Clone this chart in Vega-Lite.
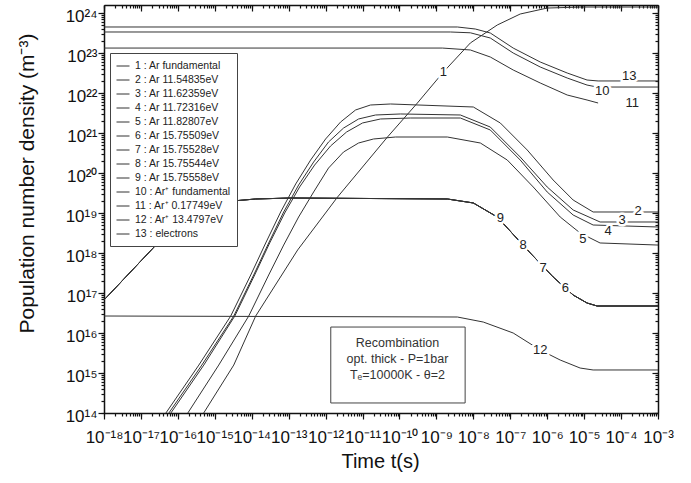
{
  "$schema": "https://vega.github.io/schema/vega-lite/v6.json",
  "width": 554,
  "height": 408,
  "autosize": {"type": "none"},
  "padding": {"left": 104, "top": 5, "right": 33, "bottom": 70},
  "background": "white",
  "config": {
    "view": {"stroke": null},
    "font": "Liberation Sans",
    "axis": {"grid": false, "domainColor": "#111", "tickColor": "#111", "labelColor": "#111", "titleColor": "#111", "labelFont": "Liberation Sans", "titleFont": "Liberation Sans", "titleFontWeight": "normal", "tickWidth": 1.2, "domainWidth": 1.5}
  },
  "datasets": {
    "curves": [
      {"s": "1 : Ar fundamental", "t": 5.0e-16, "n": 1e14},
      {"s": "1 : Ar fundamental", "t": 3.26e-15, "n": 1.58e15},
      {"s": "1 : Ar fundamental", "t": 1.28e-14, "n": 2.66e16},
      {"s": "1 : Ar fundamental", "t": 1.75e-13, "n": 1.19e18},
      {"s": "1 : Ar fundamental", "t": 2.11e-12, "n": 2.51e19},
      {"s": "1 : Ar fundamental", "t": 4.74e-11, "n": 7.94e20},
      {"s": "1 : Ar fundamental", "t": 3.06e-10, "n": 5.62e21},
      {"s": "1 : Ar fundamental", "t": 1.55e-9, "n": 3.35e22},
      {"s": "1 : Ar fundamental", "t": 8.3e-9, "n": 1.78e23},
      {"s": "1 : Ar fundamental", "t": 4.45e-8, "n": 5.01e23},
      {"s": "1 : Ar fundamental", "t": 1.86e-7, "n": 9.44e23},
      {"s": "1 : Ar fundamental", "t": 1.0e-6, "n": 1.33e24},
      {"s": "1 : Ar fundamental", "t": 7.8e-6, "n": 1.41e24},
      {"s": "1 : Ar fundamental", "t": 1e-3, "n": 1.41e24},

      {"s": "2 : Ar 11.54835eV", "t": 4.74e-17, "n": 1e14},
      {"s": "2 : Ar 11.54835eV", "t": 3.7e-16, "n": 1.58e15},
      {"s": "2 : Ar 11.54835eV", "t": 2.7e-15, "n": 2.66e16},
      {"s": "2 : Ar 11.54835eV", "t": 9.4e-15, "n": 2.82e17},
      {"s": "2 : Ar 11.54835eV", "t": 2.39e-14, "n": 1.78e18},
      {"s": "2 : Ar 11.54835eV", "t": 6.08e-14, "n": 1.06e19},
      {"s": "2 : Ar 11.54835eV", "t": 1.55e-13, "n": 5.31e19},
      {"s": "2 : Ar 11.54835eV", "t": 3.93e-13, "n": 2.11e20},
      {"s": "2 : Ar 11.54835eV", "t": 1.0e-12, "n": 7.08e20},
      {"s": "2 : Ar 11.54835eV", "t": 2.54e-12, "n": 1.88e21},
      {"s": "2 : Ar 11.54835eV", "t": 6.47e-12, "n": 3.76e21},
      {"s": "2 : Ar 11.54835eV", "t": 1.64e-11, "n": 5.01e21},
      {"s": "2 : Ar 11.54835eV", "t": 5.71e-11, "n": 5.31e21},
      {"s": "2 : Ar 11.54835eV", "t": 1e-8, "n": 4.47e21},
      {"s": "2 : Ar 11.54835eV", "t": 5.37e-8, "n": 1.78e21},
      {"s": "2 : Ar 11.54835eV", "t": 2.88e-7, "n": 3.76e20},
      {"s": "2 : Ar 11.54835eV", "t": 1.45e-6, "n": 6.68e19},
      {"s": "2 : Ar 11.54835eV", "t": 5.04e-6, "n": 2.11e19},
      {"s": "2 : Ar 11.54835eV", "t": 1.75e-5, "n": 1.06e19},
      {"s": "2 : Ar 11.54835eV", "t": 1e-3, "n": 1.06e19},

      {"s": "3 : Ar 11.62359eV", "t": 5.71e-17, "n": 1e14},
      {"s": "3 : Ar 11.62359eV", "t": 4.46e-16, "n": 1.58e15},
      {"s": "3 : Ar 11.62359eV", "t": 3.26e-15, "n": 2.66e16},
      {"s": "3 : Ar 11.62359eV", "t": 1.13e-14, "n": 2.82e17},
      {"s": "3 : Ar 11.62359eV", "t": 2.88e-14, "n": 1.78e18},
      {"s": "3 : Ar 11.62359eV", "t": 7.33e-14, "n": 1.06e19},
      {"s": "3 : Ar 11.62359eV", "t": 1.86e-13, "n": 5.01e19},
      {"s": "3 : Ar 11.62359eV", "t": 4.74e-13, "n": 1.88e20},
      {"s": "3 : Ar 11.62359eV", "t": 1.2e-12, "n": 5.96e20},
      {"s": "3 : Ar 11.62359eV", "t": 3.06e-12, "n": 1.33e21},
      {"s": "3 : Ar 11.62359eV", "t": 7.8e-12, "n": 2.24e21},
      {"s": "3 : Ar 11.62359eV", "t": 2.25e-11, "n": 2.82e21},
      {"s": "3 : Ar 11.62359eV", "t": 1.06e-10, "n": 2.99e21},
      {"s": "3 : Ar 11.62359eV", "t": 4.46e-9, "n": 2.82e21},
      {"s": "3 : Ar 11.62359eV", "t": 2.88e-8, "n": 1.41e21},
      {"s": "3 : Ar 11.62359eV", "t": 1.86e-7, "n": 2.51e20},
      {"s": "3 : Ar 11.62359eV", "t": 1e-6, "n": 4.47e19},
      {"s": "3 : Ar 11.62359eV", "t": 5.04e-6, "n": 1.19e19},
      {"s": "3 : Ar 11.62359eV", "t": 2.7e-5, "n": 5.96e18},
      {"s": "3 : Ar 11.62359eV", "t": 1e-3, "n": 5.96e18},

      {"s": "4 : Ar 11.72316eV", "t": 6.47e-17, "n": 1e14},
      {"s": "4 : Ar 11.72316eV", "t": 5.04e-16, "n": 1.58e15},
      {"s": "4 : Ar 11.72316eV", "t": 3.48e-15, "n": 2.66e16},
      {"s": "4 : Ar 11.72316eV", "t": 1.2e-14, "n": 2.82e17},
      {"s": "4 : Ar 11.72316eV", "t": 3.06e-14, "n": 1.78e18},
      {"s": "4 : Ar 11.72316eV", "t": 7.8e-14, "n": 1.0e19},
      {"s": "4 : Ar 11.72316eV", "t": 1.98e-13, "n": 4.47e19},
      {"s": "4 : Ar 11.72316eV", "t": 5.04e-13, "n": 1.58e20},
      {"s": "4 : Ar 11.72316eV", "t": 1.36e-12, "n": 4.73e20},
      {"s": "4 : Ar 11.72316eV", "t": 3.7e-12, "n": 1.06e21},
      {"s": "4 : Ar 11.72316eV", "t": 1.0e-11, "n": 1.78e21},
      {"s": "4 : Ar 11.72316eV", "t": 3.06e-11, "n": 2.24e21},
      {"s": "4 : Ar 11.72316eV", "t": 1.98e-10, "n": 2.37e21},
      {"s": "4 : Ar 11.72316eV", "t": 4.46e-9, "n": 2.37e21},
      {"s": "4 : Ar 11.72316eV", "t": 2.88e-8, "n": 1.19e21},
      {"s": "4 : Ar 11.72316eV", "t": 1.86e-7, "n": 2.11e20},
      {"s": "4 : Ar 11.72316eV", "t": 1e-6, "n": 3.35e19},
      {"s": "4 : Ar 11.72316eV", "t": 5.04e-6, "n": 8.91e18},
      {"s": "4 : Ar 11.72316eV", "t": 1.75e-5, "n": 5.01e18},
      {"s": "4 : Ar 11.72316eV", "t": 1e-3, "n": 4.47e18},

      {"s": "5 : Ar 11.82807eV", "t": 1.86e-16, "n": 1e14},
      {"s": "5 : Ar 11.82807eV", "t": 1.28e-15, "n": 1.58e15},
      {"s": "5 : Ar 11.82807eV", "t": 8.3e-15, "n": 2.66e16},
      {"s": "5 : Ar 11.82807eV", "t": 2.88e-14, "n": 2.82e17},
      {"s": "5 : Ar 11.82807eV", "t": 7.33e-14, "n": 1.58e18},
      {"s": "5 : Ar 11.82807eV", "t": 1.86e-13, "n": 7.94e18},
      {"s": "5 : Ar 11.82807eV", "t": 4.74e-13, "n": 3.35e19},
      {"s": "5 : Ar 11.82807eV", "t": 1.2e-12, "n": 1.33e20},
      {"s": "5 : Ar 11.82807eV", "t": 3.06e-12, "n": 3.35e20},
      {"s": "5 : Ar 11.82807eV", "t": 7.8e-12, "n": 5.62e20},
      {"s": "5 : Ar 11.82807eV", "t": 1.98e-11, "n": 7.08e20},
      {"s": "5 : Ar 11.82807eV", "t": 7.8e-11, "n": 7.94e20},
      {"s": "5 : Ar 11.82807eV", "t": 1.98e-9, "n": 7.94e20},
      {"s": "5 : Ar 11.82807eV", "t": 1.55e-8, "n": 5.62e20},
      {"s": "5 : Ar 11.82807eV", "t": 8.3e-8, "n": 2.11e20},
      {"s": "5 : Ar 11.82807eV", "t": 4.19e-7, "n": 4.47e19},
      {"s": "5 : Ar 11.82807eV", "t": 2.25e-6, "n": 7.94e18},
      {"s": "5 : Ar 11.82807eV", "t": 7.8e-6, "n": 3.16e18},
      {"s": "5 : Ar 11.82807eV", "t": 2.7e-5, "n": 1.78e18},
      {"s": "5 : Ar 11.82807eV", "t": 1e-3, "n": 1.58e18},

      {"s": "6 : Ar 15.75509eV", "t": 1e-18, "n": 6.68e16},
      {"s": "6 : Ar 15.75509eV", "t": 2.88e-17, "n": 1.78e18},
      {"s": "6 : Ar 15.75509eV", "t": 2.25e-16, "n": 1.06e19},
      {"s": "6 : Ar 15.75509eV", "t": 1.45e-15, "n": 1.88e19},
      {"s": "6 : Ar 15.75509eV", "t": 1.28e-14, "n": 2.24e19},
      {"s": "6 : Ar 15.75509eV", "t": 1.13e-13, "n": 2.37e19},
      {"s": "6 : Ar 15.75509eV", "t": 1.98e-9, "n": 2.24e19},
      {"s": "6 : Ar 15.75509eV", "t": 1e-8, "n": 1.78e19},
      {"s": "6 : Ar 15.75509eV", "t": 4.45e-8, "n": 7.94e18},
      {"s": "6 : Ar 15.75509eV", "t": 3.48e-7, "n": 1e18},
      {"s": "6 : Ar 15.75509eV", "t": 1.45e-6, "n": 2.51e17},
      {"s": "6 : Ar 15.75509eV", "t": 5.04e-6, "n": 8.91e16},
      {"s": "6 : Ar 15.75509eV", "t": 1.2e-5, "n": 5.62e16},
      {"s": "6 : Ar 15.75509eV", "t": 2.25e-5, "n": 4.73e16},
      {"s": "6 : Ar 15.75509eV", "t": 1e-3, "n": 4.73e16},

      {"s": "7 : Ar 15.75528eV", "t": 1e-18, "n": 6.68e16},
      {"s": "7 : Ar 15.75528eV", "t": 2.88e-17, "n": 1.78e18},
      {"s": "7 : Ar 15.75528eV", "t": 2.25e-16, "n": 1.06e19},
      {"s": "7 : Ar 15.75528eV", "t": 1.45e-15, "n": 1.88e19},
      {"s": "7 : Ar 15.75528eV", "t": 1.28e-14, "n": 2.24e19},
      {"s": "7 : Ar 15.75528eV", "t": 1.13e-13, "n": 2.37e19},
      {"s": "7 : Ar 15.75528eV", "t": 1.98e-9, "n": 2.24e19},
      {"s": "7 : Ar 15.75528eV", "t": 1e-8, "n": 1.78e19},
      {"s": "7 : Ar 15.75528eV", "t": 4.45e-8, "n": 7.94e18},
      {"s": "7 : Ar 15.75528eV", "t": 3.48e-7, "n": 1e18},
      {"s": "7 : Ar 15.75528eV", "t": 1.45e-6, "n": 2.51e17},
      {"s": "7 : Ar 15.75528eV", "t": 5.04e-6, "n": 8.91e16},
      {"s": "7 : Ar 15.75528eV", "t": 1.2e-5, "n": 5.62e16},
      {"s": "7 : Ar 15.75528eV", "t": 2.25e-5, "n": 4.73e16},
      {"s": "7 : Ar 15.75528eV", "t": 1e-3, "n": 4.73e16},

      {"s": "8 : Ar 15.75544eV", "t": 1e-18, "n": 6.68e16},
      {"s": "8 : Ar 15.75544eV", "t": 2.88e-17, "n": 1.78e18},
      {"s": "8 : Ar 15.75544eV", "t": 2.25e-16, "n": 1.06e19},
      {"s": "8 : Ar 15.75544eV", "t": 1.45e-15, "n": 1.88e19},
      {"s": "8 : Ar 15.75544eV", "t": 1.28e-14, "n": 2.24e19},
      {"s": "8 : Ar 15.75544eV", "t": 1.13e-13, "n": 2.37e19},
      {"s": "8 : Ar 15.75544eV", "t": 1.98e-9, "n": 2.24e19},
      {"s": "8 : Ar 15.75544eV", "t": 1e-8, "n": 1.78e19},
      {"s": "8 : Ar 15.75544eV", "t": 4.45e-8, "n": 7.94e18},
      {"s": "8 : Ar 15.75544eV", "t": 3.48e-7, "n": 1e18},
      {"s": "8 : Ar 15.75544eV", "t": 1.45e-6, "n": 2.51e17},
      {"s": "8 : Ar 15.75544eV", "t": 5.04e-6, "n": 8.91e16},
      {"s": "8 : Ar 15.75544eV", "t": 1.2e-5, "n": 5.62e16},
      {"s": "8 : Ar 15.75544eV", "t": 2.25e-5, "n": 4.73e16},
      {"s": "8 : Ar 15.75544eV", "t": 1e-3, "n": 4.73e16},

      {"s": "9 : Ar 15.75558eV", "t": 1e-18, "n": 6.68e16},
      {"s": "9 : Ar 15.75558eV", "t": 2.88e-17, "n": 1.78e18},
      {"s": "9 : Ar 15.75558eV", "t": 2.25e-16, "n": 1.06e19},
      {"s": "9 : Ar 15.75558eV", "t": 1.45e-15, "n": 1.88e19},
      {"s": "9 : Ar 15.75558eV", "t": 1.28e-14, "n": 2.24e19},
      {"s": "9 : Ar 15.75558eV", "t": 1.13e-13, "n": 2.37e19},
      {"s": "9 : Ar 15.75558eV", "t": 1.98e-9, "n": 2.24e19},
      {"s": "9 : Ar 15.75558eV", "t": 1e-8, "n": 1.78e19},
      {"s": "9 : Ar 15.75558eV", "t": 4.45e-8, "n": 7.94e18},
      {"s": "9 : Ar 15.75558eV", "t": 3.48e-7, "n": 1e18},
      {"s": "9 : Ar 15.75558eV", "t": 1.45e-6, "n": 2.51e17},
      {"s": "9 : Ar 15.75558eV", "t": 5.04e-6, "n": 8.91e16},
      {"s": "9 : Ar 15.75558eV", "t": 1.2e-5, "n": 5.62e16},
      {"s": "9 : Ar 15.75558eV", "t": 2.25e-5, "n": 4.73e16},
      {"s": "9 : Ar 15.75558eV", "t": 1e-3, "n": 4.73e16},

      {"s": "10 : Ar⁺ fundamental", "t": 1e-18, "n": 3.35e23},
      {"s": "10 : Ar⁺ fundamental", "t": 2.39e-9, "n": 3.35e23},
      {"s": "10 : Ar⁺ fundamental", "t": 8.3e-9, "n": 3.2e23},
      {"s": "10 : Ar⁺ fundamental", "t": 2.88e-8, "n": 2.37e23},
      {"s": "10 : Ar⁺ fundamental", "t": 1.2e-7, "n": 1.0e23},
      {"s": "10 : Ar⁺ fundamental", "t": 6.47e-7, "n": 4.47e22},
      {"s": "10 : Ar⁺ fundamental", "t": 3.48e-6, "n": 2.37e22},
      {"s": "10 : Ar⁺ fundamental", "t": 1.2e-5, "n": 1.58e22},
      {"s": "10 : Ar⁺ fundamental", "t": 2.25e-5, "n": 1.41e22},
      {"s": "10 : Ar⁺ fundamental", "t": 1e-3, "n": 1.41e22},

      {"s": "11 : Ar⁺ 0.17749eV", "t": 1e-18, "n": 1.33e23},
      {"s": "11 : Ar⁺ 0.17749eV", "t": 1.45e-9, "n": 1.33e23},
      {"s": "11 : Ar⁺ 0.17749eV", "t": 8.3e-9, "n": 1.19e23},
      {"s": "11 : Ar⁺ 0.17749eV", "t": 2.88e-8, "n": 7.94e22},
      {"s": "11 : Ar⁺ 0.17749eV", "t": 1.2e-7, "n": 3.76e22},
      {"s": "11 : Ar⁺ 0.17749eV", "t": 6.47e-7, "n": 1.78e22},
      {"s": "11 : Ar⁺ 0.17749eV", "t": 3.48e-6, "n": 8.91e21},
      {"s": "11 : Ar⁺ 0.17749eV", "t": 1.2e-5, "n": 6.68e21},
      {"s": "11 : Ar⁺ 0.17749eV", "t": 2.39e-5, "n": 5.62e21},

      {"s": "12 : Ar⁺ 13.4797eV", "t": 1e-18, "n": 2.66e16},
      {"s": "12 : Ar⁺ 13.4797eV", "t": 3.7e-9, "n": 2.51e16},
      {"s": "12 : Ar⁺ 13.4797eV", "t": 1.86e-8, "n": 1.88e16},
      {"s": "12 : Ar⁺ 13.4797eV", "t": 1.2e-7, "n": 1.0e16},
      {"s": "12 : Ar⁺ 13.4797eV", "t": 6.47e-7, "n": 3.76e15},
      {"s": "12 : Ar⁺ 13.4797eV", "t": 2.25e-6, "n": 2.11e15},
      {"s": "12 : Ar⁺ 13.4797eV", "t": 7.8e-6, "n": 1.33e15},
      {"s": "12 : Ar⁺ 13.4797eV", "t": 1.75e-5, "n": 1.19e15},
      {"s": "12 : Ar⁺ 13.4797eV", "t": 1e-3, "n": 1.19e15},

      {"s": "13 : electrons", "t": 1e-18, "n": 4.47e23},
      {"s": "13 : electrons", "t": 3.7e-9, "n": 4.47e23},
      {"s": "13 : electrons", "t": 1.13e-8, "n": 3.98e23},
      {"s": "13 : electrons", "t": 2.88e-8, "n": 3.16e23},
      {"s": "13 : electrons", "t": 1.2e-7, "n": 1.33e23},
      {"s": "13 : electrons", "t": 6.47e-7, "n": 5.96e22},
      {"s": "13 : electrons", "t": 3.48e-6, "n": 3.16e22},
      {"s": "13 : electrons", "t": 1.2e-5, "n": 2.11e22},
      {"s": "13 : electrons", "t": 2.39e-5, "n": 2.0e22},
      {"s": "13 : electrons", "t": 1e-3, "n": 2.0e22}
    ],
    "labels": [
      {"lab": "1", "t": 1.55e-9, "n": 3.39e22},
      {"lab": "2", "t": 2.88e-4, "n": 1.12e19},
      {"lab": "3", "t": 1.07e-4, "n": 6.76e18},
      {"lab": "4", "t": 4.47e-5, "n": 3.55e18},
      {"lab": "5", "t": 9.3e-6, "n": 2.24e18},
      {"lab": "6", "t": 3.09e-6, "n": 1.35e17},
      {"lab": "7", "t": 7.76e-7, "n": 4.27e17},
      {"lab": "8", "t": 2.24e-7, "n": 1.58e18},
      {"lab": "9", "t": 5.37e-8, "n": 7.59e18},
      {"lab": "10", "t": 3.09e-5, "n": 1.12e22},
      {"lab": "11", "t": 2.0e-4, "n": 5.62e21},
      {"lab": "12", "t": 6.46e-7, "n": 3.8e15},
      {"lab": "13", "t": 1.66e-4, "n": 2.69e22}
    ],
    "box": [
      {"t1": 1.38e-12, "t2": 6.0e-9, "n1": 1.78e14, "n2": 1.41e16}
    ],
    "boxtext": [
      {"txt": "Recombination", "t": 8.83e-11, "n": 5.62e15},
      {"txt": "opt. thick - P=1bar", "t": 8.83e-11, "n": 2.24e15},
      {"txt": "Tₑ=10000K - θ=2", "t": 8.83e-11, "n": 8.91e14}
    ]
  },
  "layer": [
    {
      "data": {"name": "box"},
      "mark": {"type": "rect", "fill": "white", "stroke": "#444", "strokeWidth": 1},
      "encoding": {
        "x": {"field": "t1", "type": "quantitative", "scale": {"type": "log", "domain": [1e-18, 1e-3], "nice": false},
              "axis": {"orient": "bottom", "tickCount": 100, "labels": false, "tickSize": 3, "domain": false, "title": null}},
        "x2": {"field": "t2"},
        "y": {"field": "n1", "type": "quantitative", "scale": {"type": "log", "domain": [1e14, 1.585e24], "nice": false},
              "axis": {"orient": "left", "tickCount": 100, "labels": false, "tickSize": 3, "domain": false, "title": null}},
        "y2": {"field": "n2"}
      }
    },
    {
      "data": {"name": "curves"},
      "mark": {"type": "line", "strokeWidth": 1, "clip": true},
      "encoding": {
        "x": {"field": "t", "type": "quantitative", "scale": {"type": "log", "domain": [1e-18, 1e-3], "nice": false},
              "axis": {"orient": "bottom", "values": [1e-18, 1e-17, 1e-16, 1e-15, 1e-14, 1e-13, 1e-12, 1e-11, 1e-10, 1e-9, 1e-8, 1e-7, 1e-6, 1e-5, 1e-4, 1e-3],
                       "tickSize": 6, "labelPadding": 10, "labelFontSize": 17, "labelOverlap": false, "labelFlush": false,
                       "labelExpr": "'10' + replace(replace(replace(replace(replace(replace(replace(replace(replace(replace(replace('' + round(log(datum.value) / LN10), regexp('-', 'g'), '⁻'), regexp('0', 'g'), '⁰'), regexp('1', 'g'), '¹'), regexp('2', 'g'), '²'), regexp('3', 'g'), '³'), regexp('4', 'g'), '⁴'), regexp('5', 'g'), '⁵'), regexp('6', 'g'), '⁶'), regexp('7', 'g'), '⁷'), regexp('8', 'g'), '⁸'), regexp('9', 'g'), '⁹')",
                       "title": "Time t(s)", "titleFontSize": 20, "titleX": 276, "titleY": 54, "titleBaseline": "alphabetic", "titleAlign": "center"}},
        "y": {"field": "n", "type": "quantitative", "scale": {"type": "log", "domain": [1e14, 1.585e24], "nice": false},
              "axis": {"orient": "left", "values": [1e14, 1e15, 1e16, 1e17, 1e18, 1e19, 1e20, 1e21, 1e22, 1e23, 1e24],
                       "tickSize": 6, "labelPadding": 1, "labelFontSize": 17, "labelOffset": 3, "labelOverlap": false, "labelFlush": false,
                       "labelExpr": "'10' + replace(replace(replace(replace(replace(replace(replace(replace(replace(replace(replace('' + round(log(datum.value) / LN10), regexp('-', 'g'), '⁻'), regexp('0', 'g'), '⁰'), regexp('1', 'g'), '¹'), regexp('2', 'g'), '²'), regexp('3', 'g'), '³'), regexp('4', 'g'), '⁴'), regexp('5', 'g'), '⁵'), regexp('6', 'g'), '⁶'), regexp('7', 'g'), '⁷'), regexp('8', 'g'), '⁸'), regexp('9', 'g'), '⁹')",
                       "title": "Population number density (m⁻³)", "titleFontSize": 21, "titleX": -71, "titleY": 178, "titleAngle": -90, "titleBaseline": "alphabetic", "titleAlign": "center"}},
        "color": {"field": "s", "type": "nominal",
                  "scale": {"domain": ["1 : Ar fundamental", "2 : Ar 11.54835eV", "3 : Ar 11.62359eV", "4 : Ar 11.72316eV", "5 : Ar 11.82807eV", "6 : Ar 15.75509eV", "7 : Ar 15.75528eV", "8 : Ar 15.75544eV", "9 : Ar 15.75558eV", "10 : Ar⁺ fundamental", "11 : Ar⁺ 0.17749eV", "12 : Ar⁺ 13.4797eV", "13 : electrons"],
                            "range": ["#333", "#333", "#333", "#333", "#333", "#333", "#333", "#333", "#333", "#333", "#333", "#333", "#333"]},
                  "legend": {"orient": "none", "legendX": 6, "legendY": 48, "title": null, "symbolType": "stroke", "symbolSize": 169, "symbolStrokeWidth": 1,
                             "labelFontSize": 10.5, "labelFont": "Liberation Sans", "labelColor": "#222", "strokeColor": "#444", "fillColor": "white", "padding": 6, "rowPadding": 1, "labelLimit": 300, "labelOffset": 5}}
      }
    },
    {
      "data": {"name": "labels"},
      "mark": {"type": "text", "fontSize": 13, "fill": "white", "stroke": "white", "strokeWidth": 5, "baseline": "middle", "align": "center"},
      "encoding": {
        "x": {"field": "t", "type": "quantitative", "scale": {"type": "log", "domain": [1e-18, 1e-3], "nice": false},
              "axis": {"orient": "top", "values": [1e-18, 1e-17, 1e-16, 1e-15, 1e-14, 1e-13, 1e-12, 1e-11, 1e-10, 1e-9, 1e-8, 1e-7, 1e-6, 1e-5, 1e-4, 1e-3], "labels": false, "tickSize": -6, "title": null}},
        "y": {"field": "n", "type": "quantitative", "scale": {"type": "log", "domain": [1e14, 1.585e24], "nice": false},
              "axis": {"orient": "right", "values": [1e14, 1e15, 1e16, 1e17, 1e18, 1e19, 1e20, 1e21, 1e22, 1e23, 1e24], "labels": false, "tickSize": -6, "title": null}},
        "text": {"field": "lab"}
      }
    },
    {
      "data": {"name": "labels"},
      "mark": {"type": "text", "fontSize": 13, "fill": "#222", "baseline": "middle", "align": "center"},
      "encoding": {
        "x": {"field": "t", "type": "quantitative", "scale": {"type": "log", "domain": [1e-18, 1e-3], "nice": false},
              "axis": {"orient": "top", "tickCount": 100, "labels": false, "tickSize": -3, "domain": false, "title": null}},
        "y": {"field": "n", "type": "quantitative", "scale": {"type": "log", "domain": [1e14, 1.585e24], "nice": false},
              "axis": {"orient": "right", "tickCount": 100, "labels": false, "tickSize": -3, "domain": false, "title": null}},
        "text": {"field": "lab"}
      }
    },
    {
      "data": {"name": "boxtext"},
      "mark": {"type": "text", "fontSize": 12.5, "fill": "#333", "baseline": "middle", "align": "center"},
      "encoding": {
        "x": {"field": "t", "type": "quantitative", "scale": {"type": "log", "domain": [1e-18, 1e-3], "nice": false}, "axis": null},
        "y": {"field": "n", "type": "quantitative", "scale": {"type": "log", "domain": [1e14, 1.585e24], "nice": false}, "axis": null},
        "text": {"field": "txt"}
      }
    }
  ],
  "resolve": {"axis": {"x": "independent", "y": "independent"}}
}
